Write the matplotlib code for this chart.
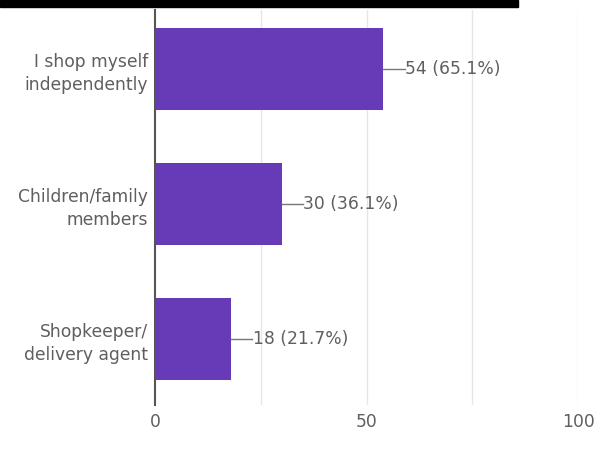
import matplotlib
matplotlib.use("Agg")
import matplotlib.pyplot as plt
from matplotlib.patches import Rectangle

answers = ['I shop myself\nindependently',
           'Children/family\nmembers',
           'Shopkeeper/\ndelivery agent']
counts = [54, 30, 18]
percents = [65.1, 36.1, 21.7]
xticks = [0, 50, 100]
grid_x = [25, 50, 75, 100]

purple = '#673ab7'
textc = '#5f5f5f'

plt.rcParams['font.family'] = ['DejaVu Sans']

W, H = 597, 450
fig = plt.figure(figsize=(W / 100, H / 100), dpi=100)
# axes box in pixel terms: left 155, right 578, top 10, bottom 405
ax = fig.add_axes([155 / W, 1 - 405 / H, (578 - 155) / W, (405 - 10) / H])

ypos = list(range(len(answers)))
ax.barh(ypos, counts, height=0.61, color=purple, zorder=3)

for x in grid_x:
    ax.axvline(x, color='#e6e6e6', lw=1, zorder=1)

# value labels with a short leader line
for y, c, p in zip(ypos, counts, percents):
    ax.plot([c, c + 5.0], [y, y], color='#777777', lw=1, zorder=4,
            clip_on=False)
    ax.text(c + 5.1, y, f'{c} ({p}%)', va='center', ha='left',
            fontsize=12.3, color=textc)

ax.set_xlim(0, 100)
ax.set_ylim(2.49, -0.44)
ax.set_yticks(ypos)
ax.set_yticklabels(answers, fontsize=12.3, color=textc, ha='right',
                   linespacing=1.35)
ax.set_xticks(xticks)
ax.set_xticklabels([str(t) for t in xticks], fontsize=12.3, color=textc)
ax.tick_params(axis='both', length=0)
ax.tick_params(axis='y', pad=5)
ax.tick_params(axis='x', pad=6)

for s in ['top', 'right', 'bottom']:
    ax.spines[s].set_visible(False)
ax.spines['left'].set_color('#555555')
ax.spines['left'].set_linewidth(1.5)
ax.spines['left'].set_zorder(5)

# black rule across the top
fig.patches.append(Rectangle((0, 1 - 6.5 / H), 518 / W, 6.5 / H,
                             transform=fig.transFigure, color='black'))

fig.savefig('out.png', dpi=100)
